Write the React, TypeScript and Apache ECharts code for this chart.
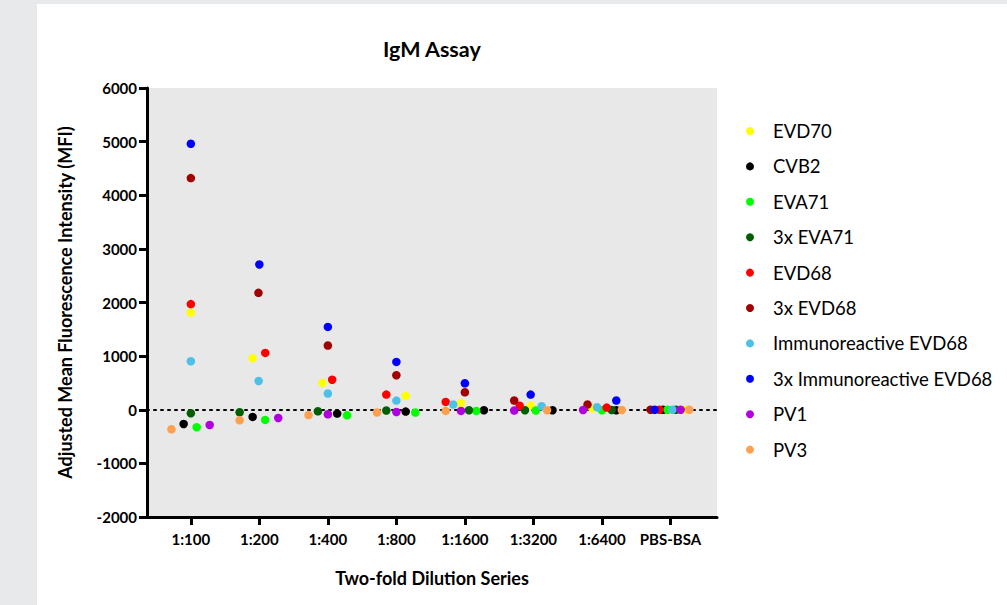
import React, { useEffect, useRef } from "react";
import * as echarts from "echarts";

const categories = ["1:100", "1:200", "1:400", "1:800", "1:1600", "1:3200", "1:6400", "PBS-BSA"];
const yTicks = [-2000, 6000, 1000];

// values (MFI) per dilution
const evd70 = [1810, 960, 500, 258, 127, 78, 24, 0];
const cvb2 = [-265, -134, -71, -34, -9, -9, -9, 0];
const eva71 = [-326, -190, -103, -52, -22, -15, -9, 0];
const eva71x3 = [-65, -47, -28, -15, -9, -9, -4, 0];
const evd68 = [1970, 1060, 560, 283, 146, 75, 40, 0];
const evd68x3 = [4320, 2180, 1198, 644, 326, 172, 97, 0];
const immEvd68 = [905, 537, 302, 171, 97, 66, 46, 0];
const immEvd68x3 = [4960, 2709, 1545, 892, 494, 283, 172, 0];
const pv1 = [-284, -153, -84, -41, -22, -15, -4, 0];
const pv3 = [-364, -196, -100, -52, -22, -9, -4, 0];

// horizontal spread of points within each dilution column (category units)
const evd70Spread = [0, -0.098, -0.079, 0.136, -0.057, -0.039, -0.14, 0.21];
const cvb2Spread = [-0.105, -0.098, 0.136, 0.136, 0.278, 0.279, 0.21, -0.108];
const eva71Spread = [0.085, 0.085, 0.28, 0.276, 0.166, 0.035, 0.0, -0.042];
const eva71x3Spread = [0, -0.288, -0.145, -0.147, 0.06, -0.123, 0.143, 0.08];
const evd68Spread = [0, 0.086, 0.063, -0.147, -0.28, -0.2, 0.07, -0.162];
const evd68x3Spread = [0, -0.013, 0, 0, 0, -0.28, -0.21, -0.29];
const immEvd68Spread = [0, -0.01, 0, 0, -0.17, 0.12, -0.07, 0.03];
const immEvd68x3Spread = [0, 0, 0, 0, 0, -0.04, 0.21, -0.23];
const pv1Spread = [0.275, 0.276, 0, 0, -0.057, -0.28, -0.275, 0.15];
const pv3Spread = [-0.283, -0.288, -0.283, -0.283, -0.28, 0.2, 0.29, 0.276];

const seriesNames = [
  "EVD70",
  "CVB2",
  "EVA71",
  "3x EVA71",
  "EVD68",
  "3x EVD68",
  "Immunoreactive EVD68",
  "3x Immunoreactive EVD68",
  "PV1",
  "PV3",
];
const seriesValues = [evd70, cvb2, eva71, eva71x3, evd68, evd68x3, immEvd68, immEvd68x3, pv1, pv3];
const seriesSpread = [
  evd70Spread,
  cvb2Spread,
  eva71Spread,
  eva71x3Spread,
  evd68Spread,
  evd68x3Spread,
  immEvd68Spread,
  immEvd68x3Spread,
  pv1Spread,
  pv3Spread,
];
const seriesColors = [
  "#ffff00",
  "#000000",
  "#00ff00",
  "#006000",
  "#ff0000",
  "#a00000",
  "#4dc0e8",
  "#0000ff",
  "#b000e0",
  "#ffa050",
];

const FONT = "Lato";

export default function App() {
  const ref = useRef<HTMLDivElement>(null);

  useEffect(() => {
    document.body.style.margin = "0";
    const chart = echarts.init(ref.current!, null, { renderer: "svg" });

    const series: any[] = seriesNames.map((name, s) => ({
      name,
      type: "scatter",
      symbol: "circle",
      symbolSize: 8.5,
      itemStyle: { color: seriesColors[s], opacity: 1 },
      data: categories.map((_, i) => [i + seriesSpread[s][i], seriesValues[s][i]]),
      z: 3,
    }));
    series[0].markLine = {
      silent: true,
      symbol: ["none", "none"],
      label: { show: false },
      lineStyle: { color: "#000", type: [2, 5], width: 2, cap: "round" },
      data: [{ yAxis: 0 }],
      z: 1,
    };

    chart.setOption({
      animation: false,
      backgroundColor: "#e8e9eb",
      textStyle: { fontFamily: FONT },
      graphic: [
        {
          type: "rect",
          z: -10,
          shape: { x: 37, y: 4, width: 1007 - 37, height: 605 - 4 },
          style: { fill: "#ffffff" },
        },
      ],
      title: {
        text: "IgM Assay",
        left: 378,
        top: 33,
        textStyle: { fontFamily: FONT, fontWeight: "bold", fontSize: 21.5, color: "#000" },
      },
      grid: {
        left: 147,
        top: 88,
        right: 1007 - 717,
        bottom: 605 - 517,
        show: true,
        backgroundColor: "#e8e8e8",
        borderWidth: 0,
      },
      legend: {
        orient: "vertical",
        left: 741,
        top: 116,
        itemWidth: 8,
        itemHeight: 8,
        itemGap: 15.4,
        icon: "circle",
        data: seriesNames,
        textStyle: {
          fontFamily: FONT,
          fontSize: 18.5,
          color: "#000",
          lineHeight: 20,
          padding: [0, 0, 0, 14],
        },
      },
      xAxis: {
        type: "value",
        min: -0.64,
        max: 7.68,
        name: "Two-fold Dilution Series",
        nameLocation: "middle",
        nameGap: 52,
        nameTextStyle: { fontFamily: FONT, fontWeight: "bold", fontSize: 18, color: "#000" },
        axisLine: { show: true, onZero: false, lineStyle: { color: "#000", width: 3 } },
        axisTick: {
          show: true,
          customValues: categories.map((_, i) => i),
          length: 8,
          lineStyle: { color: "#000", width: 3 },
        },
        axisLabel: {
          customValues: categories.map((_, i) => i),
          formatter: (v: number) => categories[Math.round(v)] ?? "",
          margin: 14,
          fontFamily: FONT,
          fontWeight: "bold",
          fontSize: 15,
          color: "#000",
        },
        splitLine: { show: false },
      },
      yAxis: {
        type: "value",
        min: yTicks[0],
        max: yTicks[1],
        interval: yTicks[2],
        name: "Adjusted Mean Fluorescence Intensity (MFI)",
        nameLocation: "middle",
        nameGap: 73,
        nameTextStyle: { fontFamily: FONT, fontWeight: "bold", fontSize: 18, color: "#000" },
        axisLine: { show: true, onZero: false, lineStyle: { color: "#000", width: 3 } },
        axisTick: { show: true, length: 8, lineStyle: { color: "#000", width: 3 } },
        axisLabel: {
          margin: 10,
          formatter: (v: number) => String(v),
          fontFamily: FONT,
          fontWeight: "bold",
          fontSize: 15,
          color: "#000",
        },
        splitLine: { show: false },
      },
      series,
    });

    return () => chart.dispose();
  }, []);

  return (
    <div
      ref={ref}
      style={{ position: "fixed", left: 0, top: 0, width: 1007, height: 605 }}
    />
  );
}
